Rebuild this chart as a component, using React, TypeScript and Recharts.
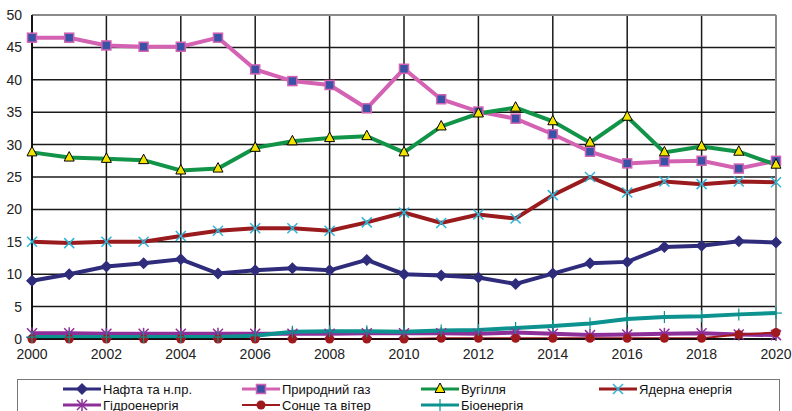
import { LineChart, Line, XAxis, YAxis, CartesianGrid, ReferenceLine } from "recharts";

const years = [2000, 2001, 2002, 2003, 2004, 2005, 2006, 2007, 2008, 2009, 2010, 2011, 2012, 2013, 2014, 2015, 2016, 2017, 2018, 2019, 2020];

const oil = [9.0, 10.0, 11.2, 11.7, 12.3, 10.1, 10.6, 10.9, 10.6, 12.2, 10.0, 9.8, 9.5, 8.5, 10.1, 11.7, 11.9, 14.2, 14.4, 15.1, 14.9];
const gas = [46.5, 46.5, 45.3, 45.1, 45.1, 46.5, 41.6, 39.8, 39.2, 35.6, 41.7, 37.0, 35.1, 34.0, 31.6, 28.9, 27.1, 27.4, 27.5, 26.3, 27.5];
const coal = [28.8, 28.0, 27.8, 27.6, 26.0, 26.3, 29.5, 30.5, 31.0, 31.3, 28.8, 32.8, 34.8, 35.7, 33.6, 30.3, 34.3, 28.8, 29.7, 28.9, 26.9];
const nuclear = [15.0, 14.8, 15.0, 15.0, 15.9, 16.7, 17.1, 17.1, 16.7, 18.0, 19.5, 17.9, 19.2, 18.6, 22.2, 25.0, 22.6, 24.3, 23.9, 24.3, 24.2];
const hydro = [0.9, 0.9, 0.8, 0.8, 0.8, 0.8, 0.8, 0.8, 0.8, 0.9, 0.9, 0.9, 0.8, 1.0, 0.8, 0.6, 0.7, 0.8, 0.9, 0.7, 0.6];
const solarWind = [0.0, 0.0, 0.0, 0.0, 0.0, 0.0, 0.0, 0.0, 0.0, 0.0, 0.0, 0.1, 0.1, 0.1, 0.1, 0.1, 0.1, 0.1, 0.1, 0.7, 1.0];
const bio = [0.3, 0.3, 0.3, 0.3, 0.3, 0.3, 0.5, 1.1, 1.2, 1.2, 1.1, 1.3, 1.4, 1.7, 2.0, 2.4, 3.1, 3.4, 3.5, 3.8, 4.0];

const yTicks = [0, 5, 10, 15, 20, 25, 30, 35, 40, 45, 50];
const xTicks = [2000, 2002, 2004, 2006, 2008, 2010, 2012, 2014, 2016, 2018, 2020];

const data = years.map((year, i) => ({
  year,
  oil: oil[i],
  gas: gas[i],
  coal: coal[i],
  nuclear: nuclear[i],
  hydro: hydro[i],
  solarWind: solarWind[i],
  bio: bio[i],
}));

const OIL = "#2F2C7C";
const GAS = "#D462B2";
const COAL = "#119448";
const NUCLEAR = "#991B1E";
const HYDRO = "#8D2E99";
const SOLAR = "#A0191D";
const BIO = "#0C938F";

type DotProps = { cx?: number; cy?: number; index?: number };

const Diamond = ({ cx = 0, cy = 0 }: DotProps) => (
  <polygon points={`${cx},${cy - 6} ${cx + 6},${cy} ${cx},${cy + 6} ${cx - 6},${cy}`} fill={OIL} />
);
const Square = ({ cx = 0, cy = 0 }: DotProps) => (
  <rect x={cx - 4.5} y={cy - 4.5} width={9} height={9} fill="#3A52A6" stroke={GAS} strokeWidth={1.5} />
);
const Triangle = ({ cx = 0, cy = 0 }: DotProps) => (
  <polygon points={`${cx},${cy - 6} ${cx + 5},${cy + 3.5} ${cx - 5},${cy + 3.5}`} fill="#F2E300" stroke="#000" strokeWidth={1} />
);
const Cross = ({ cx = 0, cy = 0 }: DotProps) => (
  <g stroke="#2CB5D8" strokeWidth={1.5}>
    <line x1={cx - 5} y1={cy - 5} x2={cx + 5} y2={cy + 5} />
    <line x1={cx - 5} y1={cy + 5} x2={cx + 5} y2={cy - 5} />
  </g>
);
const Star = ({ cx = 0, cy = 0 }: DotProps) => (
  <g stroke={HYDRO} strokeWidth={1.5}>
    <line x1={cx - 5} y1={cy - 5} x2={cx + 5} y2={cy + 5} />
    <line x1={cx - 5} y1={cy + 5} x2={cx + 5} y2={cy - 5} />
    <line x1={cx} y1={cy - 6} x2={cx} y2={cy + 6} />
  </g>
);
const Circle = ({ cx = 0, cy = 0 }: DotProps) => <circle cx={cx} cy={cy} r={4.5} fill={SOLAR} />;
const Plus = ({ cx = 0, cy = 0 }: DotProps) => (
  <g stroke={BIO} strokeWidth={1.2}>
    <line x1={cx - 6} y1={cy} x2={cx + 6} y2={cy} />
    <line x1={cx} y1={cy - 6} x2={cx} y2={cy + 6} />
  </g>
);

const series = [
  { key: "oil", name: "Нафта та н.пр.", color: OIL, width: 4, Dot: Diamond },
  { key: "gas", name: "Природний газ", color: GAS, width: 4, Dot: Square },
  { key: "coal", name: "Вугілля", color: COAL, width: 4, Dot: Triangle },
  { key: "nuclear", name: "Ядерна енергія", color: NUCLEAR, width: 4, Dot: Cross },
  { key: "hydro", name: "Гідроенергія", color: HYDRO, width: 4, Dot: Star },
  { key: "solarWind", name: "Сонце та вітер", color: SOLAR, width: 2, Dot: Circle },
  { key: "bio", name: "Біоенергія", color: BIO, width: 4, Dot: Plus },
];

const tickStyle = { fontFamily: "'Liberation Sans', Arial, sans-serif", fontSize: 14, fill: "#222" };

function LegendBox() {
  // icon left edge of each column, relative to the box
  const colLeft = [45, 224, 403, 581];
  return (
    <div
      style={{
        position: "absolute",
        left: 17,
        top: 379,
        width: 763,
        height: 40,
        border: "1px solid #777",
        boxSizing: "border-box",
      }}
    >
      {series.map((s, i) => {
        const col = i % 4;
        const row = Math.floor(i / 4);
        const D = s.Dot;
        return (
          <div
            key={s.key}
            style={{
              position: "absolute",
              left: colLeft[col],
              top: 1 + row * 16,
              display: "flex",
              alignItems: "center",
              height: 16,
              whiteSpace: "nowrap",
            }}
          >
            <svg width={40} height={14}>
              <line x1={0} y1={7} x2={38} y2={7} stroke={s.color} strokeWidth={s.width === 2 ? 1.8 : 3} />
              <D cx={19} cy={7} />
            </svg>
            <span
              style={{
                fontFamily: "'Liberation Sans', Arial, sans-serif",
                fontSize: 13,
                color: "#111",
              }}
            >
              {s.name}
            </span>
          </div>
        );
      })}
    </div>
  );
}

export default function App() {
  return (
    <div style={{ position: "absolute", left: 0, top: 0, width: 792, height: 411, background: "#fff", overflow: "hidden" }}>
      <LineChart width={792} height={370} data={data} margin={{ top: 15, right: 16, left: 2, bottom: 0 }}>
        <CartesianGrid stroke="#1a1a1a" strokeWidth={1.5} horizontalValues={yTicks} verticalValues={xTicks} />
        <XAxis
          dataKey="year"
          type="number"
          domain={[2000, 2020]}
          ticks={xTicks}
          tickLine={false}
          axisLine={{ stroke: "#000", strokeWidth: 1.5 }}
          tick={tickStyle}
          tickMargin={4}
          height={31}
          interval={0}
        />
        <YAxis
          type="number"
          domain={[0, 50]}
          ticks={yTicks}
          tickLine={false}
          axisLine={{ stroke: "#000", strokeWidth: 1.5 }}
          tick={tickStyle}
          tickMargin={4}
          width={30}
          interval={0}
        />
        <ReferenceLine y={50} stroke="#8a8a8a" strokeWidth={2} />
        <ReferenceLine x={2020} stroke="#8a8a8a" strokeWidth={2} />
        {series.map((s) => (
          <Line
            key={s.key}
            dataKey={s.key}
            name={s.name}
            type="linear"
            stroke={s.color}
            strokeWidth={s.width}
            dot={(p: DotProps) => <s.Dot key={`${s.key}-${p.index}`} cx={p.cx} cy={p.cy} />}
            activeDot={false}
            isAnimationActive={false}
          />
        ))}
      </LineChart>
      <LegendBox />
    </div>
  );
}
